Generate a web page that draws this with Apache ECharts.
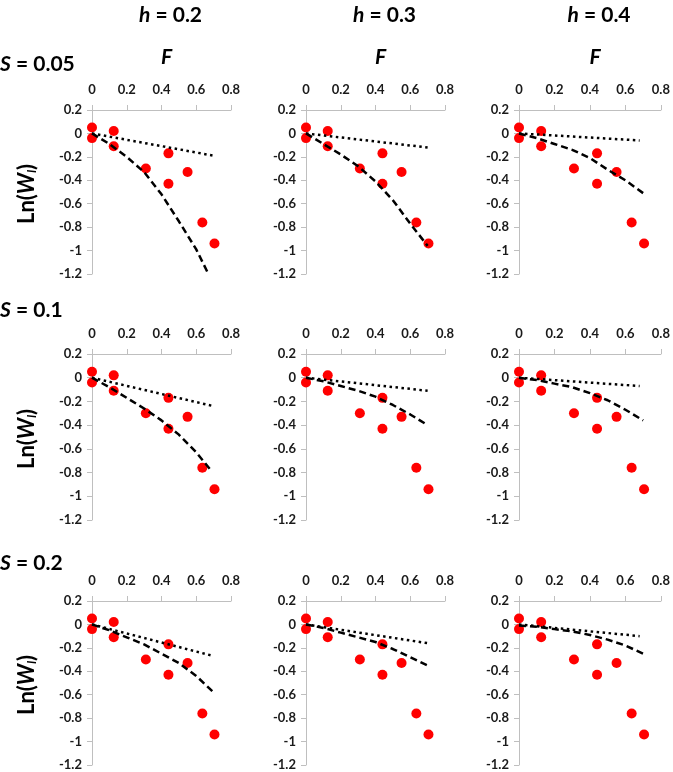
<!DOCTYPE html>
<html>
<head>
<meta charset="utf-8">
<script src="https://cdn.jsdelivr.net/npm/echarts@6/dist/echarts.min.js"></script>
<style>
html,body{margin:0;padding:0;background:#fff;}
#chart{width:673px;height:772px;}
</style>
</head>
<body>
<div id="chart"></div>
<script>
// ---- Data ----
const colHeaders = ['0.2', '0.3', '0.4'];          // h values
const rowHeaders = ['0.05', '0.1', '0.2'];         // S values
const xTicks = [0, 0.2, 0.4, 0.6, 0.8];
const yTicks = [0.2, 0, -0.2, -0.4, -0.6, -0.8, -1, -1.2];

// observed points (same in every panel)
const F_obs   = [0, 0, 0.125, 0.125, 0.31, 0.44, 0.44, 0.55, 0.635, 0.705];
const lnW_obs = [0.05, -0.04, 0.02, -0.11, -0.30, -0.17, -0.43, -0.33, -0.76, -0.94];

// dashed model curves [F, Ln(W)]
const dash_S005_h02 = [[0,0],[0.1,-0.09],[0.2,-0.2],[0.3,-0.33],[0.4,-0.52],[0.5,-0.75],[0.6,-0.99],[0.67,-1.2]];
const dash_S005_h03 = [[0,0],[0.1,-0.09],[0.2,-0.18],[0.3,-0.28],[0.4,-0.41],[0.5,-0.57],[0.6,-0.77],[0.7,-0.96]];
const dash_S005_h04 = [[0,0],[0.1,-0.04],[0.2,-0.09],[0.3,-0.14],[0.4,-0.21],[0.5,-0.31],[0.6,-0.40],[0.7,-0.51]];
const dash_S01_h02  = [[0,0],[0.1,-0.08],[0.2,-0.17],[0.3,-0.26],[0.4,-0.36],[0.5,-0.48],[0.6,-0.63],[0.69,-0.79]];
const dash_S01_h03  = [[0,0],[0.1,-0.03],[0.2,-0.07],[0.3,-0.11],[0.4,-0.16],[0.5,-0.23],[0.6,-0.31],[0.7,-0.40]];
const dash_S01_h04  = [[0,0],[0.1,-0.02],[0.2,-0.05],[0.3,-0.08],[0.4,-0.13],[0.5,-0.19],[0.6,-0.27],[0.7,-0.36]];
const dash_S02_h02  = [[0,0],[0.1,-0.05],[0.2,-0.11],[0.3,-0.17],[0.4,-0.25],[0.5,-0.33],[0.6,-0.44],[0.7,-0.58]];
const dash_S02_h03  = [[0,0],[0.1,-0.03],[0.2,-0.07],[0.3,-0.11],[0.4,-0.15],[0.5,-0.21],[0.6,-0.28],[0.7,-0.35]];
const dash_S02_h04  = [[0,-0.01],[0.1,-0.02],[0.2,-0.04],[0.3,-0.06],[0.4,-0.09],[0.5,-0.13],[0.6,-0.18],[0.7,-0.25]];

// dotted model lines [F, Ln(W)]
const dot_S005_h02 = [[0,0],[0.7,-0.19]];
const dot_S005_h03 = [[0,0],[0.7,-0.12]];
const dot_S005_h04 = [[0,0],[0.68,-0.06]];
const dot_S01_h02  = [[0,0],[0.7,-0.24]];
const dot_S01_h03  = [[0,0],[0.7,-0.11]];
const dot_S01_h04  = [[0,0],[0.68,-0.07]];
const dot_S02_h02  = [[0,0],[0.7,-0.27]];
const dot_S02_h03  = [[0,0],[0.7,-0.16]];
const dot_S02_h04  = [[0,0],[0.68,-0.10]];

const dashed = [
  [dash_S005_h02, dash_S005_h03, dash_S005_h04],
  [dash_S01_h02,  dash_S01_h03,  dash_S01_h04],
  [dash_S02_h02,  dash_S02_h03,  dash_S02_h04]
];
const dotted = [
  [dot_S005_h02, dot_S005_h03, dot_S005_h04],
  [dot_S01_h02,  dot_S01_h03,  dot_S01_h04],
  [dot_S02_h02,  dot_S02_h03,  dot_S02_h04]
];

// ---- Layout ----
const FONT = 'Lato, "Open Sans", sans-serif';
const colLeft = [92, 306, 519];
const colWidth = [139, 139, 142];
const rowTop = [110, 354, 601];
const rowHeight = [164, 166, 164];
const axisGray = '#bfbfbf';
const labelColor = '#1a1a1a';

const grids = [], xAxes = [], yAxes = [], series = [], graphics = [];
const obs = F_obs.map((f, i) => [f, lnW_obs[i]]);
const fmt = v => String(Math.round(v * 10) / 10);

let gi = 0;
for (let r = 0; r < 3; r++) {
  for (let c = 0; c < 3; c++) {
    grids.push({left: colLeft[c], top: rowTop[r], width: colWidth[c], height: rowHeight[r], containLabel: false});
    xAxes.push({
      type: 'value', gridIndex: gi, position: 'top', min: xTicks[0], max: xTicks[xTicks.length - 1], interval: 0.2,
      axisLine: {show: true, onZero: false, lineStyle: {color: axisGray, width: 1}},
      axisTick: {show: true, inside: false, length: 5, lineStyle: {color: axisGray}},
      splitLine: {show: false},
      axisLabel: {fontFamily: FONT, fontWeight: 'bold', fontSize: 13, color: labelColor, margin: 14, formatter: fmt}
    });
    yAxes.push({
      type: 'value', gridIndex: gi, min: yTicks[yTicks.length - 1], max: yTicks[0], interval: 0.2,
      axisLine: {show: true, onZero: false, lineStyle: {color: axisGray, width: 1}},
      axisTick: {show: true, inside: false, length: 5, lineStyle: {color: axisGray}},
      splitLine: {show: false},
      axisLabel: {fontFamily: FONT, fontWeight: 'bold', fontSize: 13, color: labelColor, margin: 10, formatter: fmt}
    });
    series.push({
      type: 'scatter', xAxisIndex: gi, yAxisIndex: gi, data: obs, symbolSize: 10,
      itemStyle: {color: '#ff0000', opacity: 1}, z: 2
    });
    series.push({
      type: 'line', xAxisIndex: gi, yAxisIndex: gi, data: dotted[r][c], symbol: 'none', showSymbol: false,
      lineStyle: {color: '#000', width: 2.5, type: [2.5, 3.5]}, z: 3
    });
    series.push({
      type: 'line', xAxisIndex: gi, yAxisIndex: gi, data: dashed[r][c], symbol: 'none', showSymbol: false,
      lineStyle: {color: '#000', width: 2.5, type: [7, 4]}, z: 4
    });
    gi++;
  }
}

// column headers h = ...
const headerY = 15;
for (let c = 0; c < 3; c++) {
  const cx = colLeft[c] + colWidth[c] / 2;
  graphics.push({
    type: 'text', x: cx + 9, y: headerY,
    style: {text: '{i|h} = ' + colHeaders[c], font: 'bold 21px ' + FONT, fill: '#000', align: 'center', verticalAlign: 'middle',
      rich: {i: {fontStyle: 'italic', fontWeight: 'bold', fontSize: 21, fontFamily: FONT}}}
  });
  graphics.push({
    type: 'text', x: cx + 5, y: 57,
    style: {text: 'F', font: 'italic bold 21px ' + FONT, fill: '#000', align: 'center', verticalAlign: 'middle'}
  });
}
// row headers S = ...
const rowLabelY = [64, 310, 563];
for (let r = 0; r < 3; r++) {
  graphics.push({
    type: 'text', x: 0, y: rowLabelY[r],
    style: {text: '{i|S} = ' + rowHeaders[r], font: 'bold 21px ' + FONT, fill: '#000', align: 'left', verticalAlign: 'middle',
      rich: {i: {fontStyle: 'italic', fontWeight: 'bold', fontSize: 21, fontFamily: FONT}}}
  });
  graphics.push({
    type: 'text', x: 27, y: rowTop[r] + rowHeight[r] / 2 + 2, rotation: Math.PI / 2,
    style: {text: 'Ln({w|W}{s|l})', font: 'bold 22px ' + FONT, fill: '#000', align: 'center', verticalAlign: 'middle',
      rich: {
        w: {fontStyle: 'italic', fontWeight: 'bold', fontSize: 22, fontFamily: FONT},
        s: {fontStyle: 'italic', fontWeight: 'bold', fontSize: 12, fontFamily: FONT, verticalAlign: 'bottom', padding: [10, 0, 0, 0]}
      }}
  });
}

const chart = echarts.init(document.getElementById('chart'), null, {renderer: 'canvas'});
chart.setOption({
  animation: false,
  backgroundColor: '#fff',
  grid: grids,
  xAxis: xAxes,
  yAxis: yAxes,
  series: series,
  graphic: graphics
});
</script>
</body>
</html>
